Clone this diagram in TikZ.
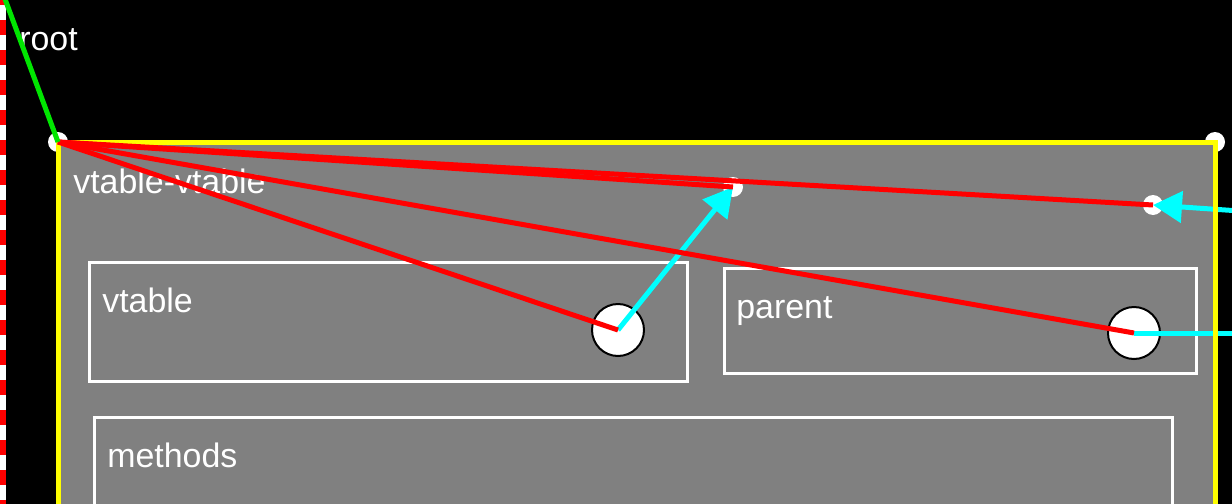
\documentclass[tikz,border=0pt]{standalone}
\usepackage{fontspec}
\setmainfont{Liberation Sans}
\usetikzlibrary{arrows.meta,calc}
\definecolor{boxgray}{RGB}{128,128,128}
\definecolor{linkred}{RGB}{255,0,0}
\definecolor{refcyan}{RGB}{0,255,255}
\definecolor{framey}{RGB}{255,255,0}
\definecolor{upgreen}{RGB}{0,230,0}
\tikzset{
  lbl/.style={text=white,inner sep=0,anchor=base west,font=\fontsize{19.3}{23}\selectfont},
  box/.style={draw=white,line width=0.055cm,inner sep=0,anchor=north west},
  dot/.style={circle,fill=white,inner sep=0,minimum size=0.4cm},
  port/.style={circle,fill=white,draw=black,line width=0.04cm,inner sep=0,minimum size=1.04cm},
  link/.style={linkred,line width=0.1cm},
  ref/.style={refcyan,line width=0.1cm},
  frame/.style={framey,line width=0.1cm}
}
\begin{document}
\begin{tikzpicture}[x=0.02cm,y=-0.02cm]
\useasboundingbox (0,0) rectangle (1232,504);
\clip (0,0) rectangle (1232,504);
\fill[black] (0,0) rectangle (1232,504);
% root box edge
\draw[white,line width=0.12cm] (3,0) -- (3,504);
\draw[linkred,line width=0.12cm,dash pattern=on 0.3cm off 0.3cm,dash phase=0.2cm] (3,0) -- (3,504);
\node[lbl] (rootlbl) at (19,50) {root};
\coordinate (up) at (5,-1);
\node[dot] (tl) at (58,142) {};
\node[dot] (tr) at (1215,142) {};
% vtable-vtable box
\node[fill=boxgray,inner sep=0,anchor=north west,minimum width=23.14cm,minimum height=8.6cm] (vv) at (58,142) {};
\node[lbl] (vvlbl) at ($(vv.north west)+(15,51)$) {vtable-vtable};
\node[box,minimum width=11.96cm,minimum height=2.38cm] (vt) at (88,261) {};
\node[lbl] at ($(vt.north west)+(14,51)$) {vtable};
\node[box,minimum width=9.44cm,minimum height=2.1cm] (par) at (723,267) {};
\node[lbl] at ($(par.north west)+(13,51)$) {parent};
\node[box,minimum width=21.56cm,minimum height=3cm] (meth) at (93,416) {};
\node[lbl] at ($(meth.north west)+(14,51)$) {methods};
\node[dot] (vtdot) at (733,187) {};
\node[dot] (pdot) at (1153,205) {};
\node[port] (vtport) at (618,330) {};
\node[port] (pport) at (1134,333) {};
\coordinate (inR) at (1240,211);
\coordinate (outR) at (1240,333);
% references
\draw[ref,-{Triangle[length=0.58cm,width=0.62cm]}] (vtport.center) -- (vtdot.center);
\draw[ref,-{Triangle[length=0.58cm,width=0.62cm]}] (inR) -- (pdot.center);
\draw[ref] (pport.center) -- (outR);
\draw[frame] (vv.south west) |- (vv.north east) -- (vv.south east);
% links from the corner
\foreach \t in {vtport,pport,vtdot,pdot}
  \draw[link] (tl.center) -- (\t.center);
\draw[upgreen,line width=0.1cm] (up) -- (tl.center);
\end{tikzpicture}
\end{document}
